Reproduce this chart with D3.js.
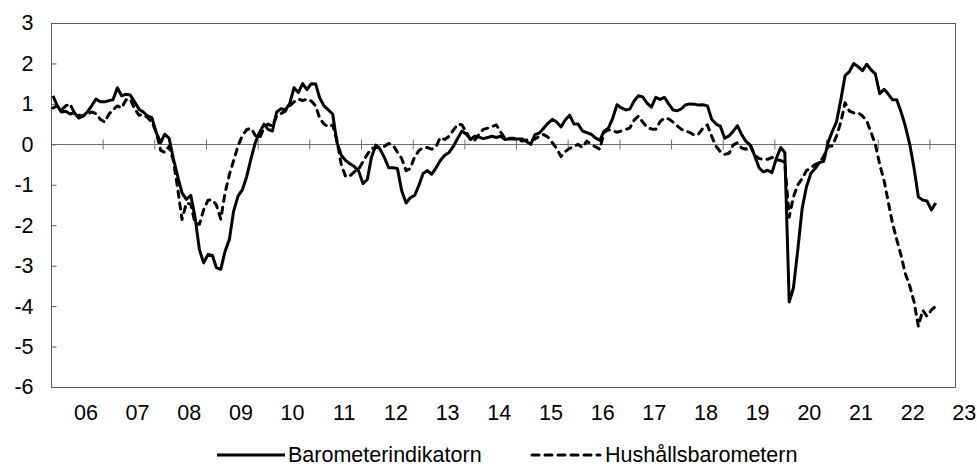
<!DOCTYPE html>
<html>
<head>
<meta charset="utf-8">
<script src="https://cdn.jsdelivr.net/npm/d3@7"></script>
<style>
  body { margin: 0; background: #fff; }
  text { font-family: "Liberation Sans", Arial, sans-serif; fill: #000; }
</style>
</head>
<body>
<div id="vis"></div>
<script>
// monthly values, first value = jan 2006
let startYear = 2006

let barometer = [
  1.2, 0.95, 0.8, 0.82, 0.75, 0.78, 0.65, 0.7, 0.8, 0.95, 1.12, 1.05,
  1.05, 1.08, 1.1, 1.4, 1.2, 1.24, 1.22, 1.05, 0.87, 0.8, 0.7, 0.66,
  0.29, 0.04, 0.25, 0.15, -0.35, -0.8, -1.2, -1.36, -1.26, -1.8, -2.6, -2.93,
  -2.72, -2.75, -3.05, -3.09, -2.65, -2.35, -1.65, -1.28, -1.12, -0.8, -0.35, 0.04,
  0.3, 0.5, 0.37, 0.33, 0.8, 0.88, 0.85, 1.0, 1.4, 1.28, 1.5, 1.35,
  1.5, 1.49, 1.15, 0.95, 0.85, 0.75, 0.05, -0.27, -0.4, -0.48, -0.55, -0.65,
  -0.97, -0.87, -0.32, -0.02, -0.12, -0.33, -0.58, -0.58, -0.6, -1.15, -1.45, -1.32,
  -1.26, -1.0, -0.72, -0.65, -0.74, -0.58, -0.4, -0.27, -0.2, -0.05, 0.15, 0.33,
  0.25, 0.12, 0.2, 0.18, 0.14, 0.17, 0.2, 0.17, 0.2, 0.12, 0.14, 0.13,
  0.13, 0.13, 0.07, 0.0, 0.24, 0.28, 0.4, 0.52, 0.62, 0.55, 0.43, 0.6,
  0.72, 0.5, 0.5, 0.33, 0.29, 0.25, 0.16, 0.1, 0.33, 0.4, 0.65, 0.98,
  0.9, 0.85, 0.87, 1.07, 1.2, 1.17, 1.02, 0.92, 1.16, 1.11, 1.16, 1.0,
  0.85, 0.83, 0.88, 0.98, 1.0, 0.99, 0.97, 0.98, 0.95, 0.62, 0.5, 0.45,
  0.15, 0.21, 0.32, 0.46, 0.24, 0.07, -0.02, -0.28, -0.58, -0.68, -0.64, -0.7,
  -0.35, -0.08, -0.2, -3.9, -3.55, -2.6, -1.6, -1.05, -0.72, -0.6, -0.45, -0.42,
  0.05, 0.33, 0.55, 1.1, 1.7, 1.8, 2.0, 1.92, 1.82, 1.98, 1.84, 1.74,
  1.25, 1.36, 1.25, 1.1, 1.1, 0.8, 0.45, 0.0, -0.6, -1.3, -1.38, -1.4,
  -1.62, -1.45
]

let hushall = [
  0.9, 0.95, 0.85, 0.95, 1.0, 0.78, 0.72, 0.7, 0.75, 0.8, 0.76, 0.62,
  0.55, 0.75, 0.85, 0.95, 0.9, 1.1, 1.12, 0.88, 0.72, 0.74, 0.66, 0.55,
  0.3, -0.15, -0.2, -0.05, -0.4, -1.1, -1.86, -1.45, -1.48, -1.95, -1.98, -1.62,
  -1.38, -1.37, -1.5, -1.85, -1.2, -0.75, -0.4, -0.04, 0.22, 0.36, 0.4, 0.22,
  0.15, 0.42, 0.5, 0.45, 0.7, 0.76, 0.82, 0.95, 1.05, 1.12, 1.08, 1.12,
  1.07, 0.95, 0.65, 0.5, 0.43, 0.48, 0.1, -0.5, -0.8, -0.78, -0.68, -0.62,
  -0.43, -0.25, -0.1, -0.08, -0.07, -0.05, 0.02, -0.02, -0.2, -0.35, -0.65, -0.6,
  -0.3, -0.15, -0.08, -0.08, -0.12, -0.05, 0.17, 0.12, 0.2, 0.35, 0.5, 0.48,
  0.3, 0.1, 0.1, 0.25, 0.37, 0.4, 0.44, 0.48, 0.3, 0.14, 0.15, 0.15,
  0.11, 0.08, 0.11, 0.09, 0.13, 0.2, 0.24, 0.18, 0.04, -0.1, -0.3, -0.18,
  -0.1, -0.05, 0.0, -0.08, 0.08, 0.0, -0.06, -0.12, 0.3, 0.36, 0.33, 0.3,
  0.33, 0.37, 0.4, 0.6, 0.7, 0.55, 0.42, 0.38, 0.37, 0.56, 0.65, 0.63,
  0.55, 0.45, 0.37, 0.33, 0.29, 0.22, 0.26, 0.4, 0.48, 0.2, -0.05, -0.18,
  -0.25, -0.22, -0.02, 0.04, -0.09, -0.12, -0.02, -0.27, -0.35, -0.37, -0.37, -0.32,
  -0.38, -0.4, -0.45, -1.8, -1.3, -1.0, -0.85, -0.65, -0.58, -0.5, -0.45, -0.3,
  -0.05, -0.04, 0.2, 0.55, 1.03, 0.82, 0.78, 0.78, 0.7, 0.58, 0.29, 0.0,
  -0.5, -0.9, -1.4, -1.95, -2.35, -2.75, -3.2, -3.5, -3.9, -4.5, -4.1, -4.25,
  -4.1, -4.0
]

let yearLabels = ['06','07','08','09','10','11','12','13','14','15','16','17','18','19','20','21','22','23']
let yTicks = [3, 2, 1, 0, -1, -2, -3, -4, -5, -6]
let seriesNames = ['Barometerindikatorn', 'Hushållsbarometern']


let width = 977,
    height = 466
let plot = {left: 51, right: 955, top: 23, bottom: 387}
let fontSize = '21.5px'

let svg = d3.select('#vis')
  .append('svg')
  .attr('width', width)
  .attr('height', height)

let x = d3.scaleTime()
  .domain([new Date(startYear, 0, 1), new Date(2023, 6, 1)])
  .range([plot.left, plot.right])

let y = d3.scaleLinear()
  .domain([-6, 3])
  .range([plot.bottom, plot.top])

let monthDate = i => new Date(startYear, i, 15)

// frame
svg.append('rect')
  .attr('x', plot.left + 0.5)
  .attr('y', plot.top + 0.5)
  .attr('width', plot.right - plot.left)
  .attr('height', plot.bottom - plot.top)
  .attr('fill', 'none')
  .attr('stroke', '#5a5a5a')
  .attr('stroke-width', 1)

// y axis, ticks pointing inwards
let yAxis = svg.append('g')
  .attr('transform', `translate(${plot.left + 0.5},0)`)
  .call(d3.axisLeft(y).tickValues(yTicks).tickSize(-5).tickPadding(18).tickFormat(d => d))
yAxis.select('.domain').remove()
yAxis.selectAll('line').attr('stroke', '#5a5a5a')
yAxis.selectAll('text').style('font-size', fontSize).attr('font-family', null)

// zero line with year ticks on it
let yearStarts = d3.range(startYear + 1, 2024).map(yr => new Date(yr, 0, 1))
let zeroAxis = svg.append('g')
  .attr('transform', `translate(0,${Math.round(y(0)) - 5 + 0.5})`)
  .call(d3.axisBottom(x).tickValues(yearStarts).tickSize(10).tickFormat(''))
zeroAxis.select('.domain').remove()
zeroAxis.selectAll('line').attr('stroke', '#6e6e6e')

svg.append('line')
  .attr('x1', plot.left)
  .attr('x2', plot.right)
  .attr('y1', Math.round(y(0)) + 0.5)
  .attr('y2', Math.round(y(0)) + 0.5)
  .attr('stroke', '#6e6e6e')
  .attr('stroke-width', 1)

// year labels below the plot
let labelDates = yearLabels.map((l, i) => new Date(startYear + i, 8, 1))
let xAxis = svg.append('g')
  .attr('transform', `translate(0,${plot.bottom})`)
  .call(d3.axisBottom(x).tickValues(labelDates).tickSize(0).tickPadding(18)
    .tickFormat((d, i) => yearLabels[i]))
xAxis.select('.domain').remove()
xAxis.selectAll('text').style('font-size', fontSize).attr('font-family', null)

// lines
let line = d3.line()
  .x((d, i) => x(monthDate(i)))
  .y(d => y(d))

svg.append('path')
  .datum(hushall)
  .attr('d', line)
  .attr('fill', 'none')
  .attr('stroke', '#000')
  .attr('stroke-width', 3)
  .attr('stroke-linejoin', 'round')
  .attr('stroke-linecap', 'round')
  .attr('stroke-dasharray', '6,6')

svg.append('path')
  .datum(barometer)
  .attr('d', line)
  .attr('fill', 'none')
  .attr('stroke', '#000')
  .attr('stroke-width', 3)
  .attr('stroke-linejoin', 'round')

// legend
let legendY = 455
let legend = svg.append('g')

legend.append('line')
  .attr('x1', 217).attr('x2', 285)
  .attr('y1', legendY).attr('y2', legendY)
  .attr('stroke', '#000').attr('stroke-width', 3)

legend.append('text')
  .attr('x', 288).attr('y', legendY + 7)
  .style('font-size', fontSize)
  .text(seriesNames[0])

legend.append('line')
  .attr('x1', 532).attr('x2', 600)
  .attr('y1', legendY).attr('y2', legendY)
  .attr('stroke', '#000').attr('stroke-width', 3)
  .attr('stroke-linecap', 'round')
  .attr('stroke-dasharray', '7,6')

legend.append('text')
  .attr('x', 605).attr('y', legendY + 7)
  .style('font-size', fontSize)
  .text(seriesNames[1])
</script>
</body>
</html>
